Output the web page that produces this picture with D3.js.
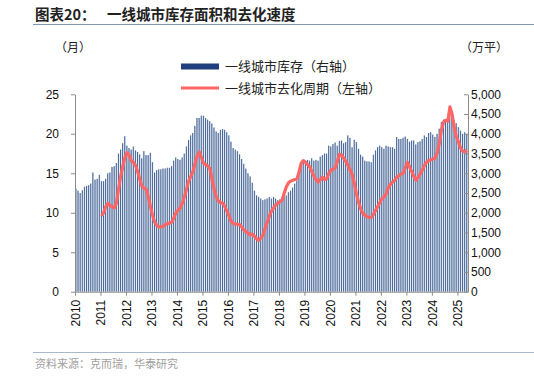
<!DOCTYPE html>
<html>
<head>
<meta charset="utf-8">
<script src="https://cdn.jsdelivr.net/npm/d3@7"></script>
<style>
  body { margin: 0; background: #fff; }
  svg { display: block; }
</style>
</head>
<body>
<svg id="chart"></svg>
<script>
const width = 534, height = 377;
const plot = { left: 75, right: 468, top: 94.3, bottom: 291.7 };

// Monthly data, starting Jan 2010
const yearLabels = ["2010","2011","2012","2013","2014","2015","2016","2017","2018","2019","2020","2021","2022","2023","2024","2025"];

// 一线城市库存 (万平), right axis
const inventory = [
  2610, 2560, 2500, 2570, 2660, 2680, 2700, 2740, 3020, 2840, 2860, 2960,
  2800, 2800, 2860, 3000, 3020, 3160, 3180, 3260, 3500, 3600, 3760, 3940,
  3700, 3640, 3600, 3680, 3580, 3540, 3480, 3380, 3560, 3460, 3460, 3520,
  3280, 3020, 3080, 3100, 3100, 3120, 3120, 3140, 3140, 3180, 3320, 3400,
  3360, 3340, 3400, 3500, 3680, 3840, 3960, 4020, 4200, 4400, 4400, 4460,
  4460, 4400, 4360, 4320, 4260, 4160, 4060, 4020, 4100, 4120, 4100, 4040,
  3960, 3800, 3640, 3600, 3560, 3480, 3360, 3240, 3120, 3000, 2920, 2760,
  2560, 2440, 2400, 2360, 2320, 2340, 2360, 2400, 2360, 2400, 2360, 2320,
  2340, 2360, 2400, 2440, 2520, 2560, 2640, 2740, 2820, 2980, 3160, 3280,
  3320, 3340, 3320, 3380, 3320, 3340, 3320, 3420, 3460, 3500, 3500, 3700,
  3680, 3740, 3780, 3700, 3820, 3830, 3760, 3790, 3960, 3900, 3660, 3850,
  3790, 3620, 3470, 3420, 3320, 3300, 3300, 3280, 3470, 3580, 3660, 3700,
  3660, 3620, 3700, 3680, 3660, 3660, 3620, 3920, 3870, 3870, 3900, 3930,
  3870, 3800, 3830, 3830, 3730, 3790, 3810, 3870, 3960, 3920, 4020, 4040,
  3980, 3920, 4000, 4130, 4300, 4360, 4340, 4420, 4470, 4410, 4340, 4270,
  4170, 4080, 4000, 4040, 4000
];

// 一线城市去化周期 (月), left axis, starts Jan 2011
const cycleStart = 12;
const cycle = [
  9.6, 10.0, 10.8, 11.2, 10.9, 10.8, 10.6, 11.2, 13.0, 14.6, 15.9, 17.0,
  17.6, 17.3, 16.6, 16.4, 16.0, 15.2, 14.2, 13.4, 13.1, 13.0, 12.0, 10.8,
  9.7, 8.8, 8.4, 8.2, 8.2, 8.3, 8.5, 8.6, 8.7, 8.8, 9.3, 10.0,
  10.3, 10.6, 11.2, 12.0, 13.0, 14.0, 14.6, 15.2, 16.2, 17.2, 17.7, 17.0,
  16.3, 16.1, 15.9, 15.6, 14.2, 13.0, 12.0, 11.5, 11.3, 11.2, 10.8, 10.2,
  9.6, 8.9, 8.6, 8.6, 8.5, 8.5, 8.2, 7.8, 7.6, 7.4, 7.2, 7.3,
  7.0, 6.7, 6.5, 6.8, 7.2, 8.0, 8.8, 9.6, 10.2, 10.6, 11.0, 11.2,
  11.4, 11.6, 12.5, 13.3, 13.8, 14.0, 14.1, 14.2, 14.3, 15.2, 16.3, 16.6,
  16.4, 16.1, 15.8, 15.2, 14.6, 14.2, 13.9, 14.2, 14.5, 14.2, 14.3, 15.0,
  15.4, 15.5, 15.7, 16.5, 17.4, 17.3, 16.9, 16.5, 16.0, 15.4, 14.8, 13.7,
  12.4, 11.3, 10.5, 9.9, 9.7, 9.5, 9.4, 9.4, 9.8, 10.3, 10.8, 11.3,
  11.8, 12.0, 12.4, 13.2, 13.6, 13.9, 14.1, 14.5, 14.7, 14.9, 15.0, 15.7,
  16.4, 15.8, 15.2, 14.6, 14.1, 14.5, 14.9, 15.4, 16.0, 16.4, 16.6, 16.7,
  16.8, 16.9, 17.6, 18.8, 20.5, 21.5, 21.7, 21.6, 23.4, 22.5, 20.8, 19.6,
  19.0, 18.2, 17.8, 17.7, 17.9
];

const leftTicks = [0, 5, 10, 15, 20, 25];
const rightTicks = [0, 500, 1000, 1500, 2000, 2500, 3000, 3500, 4000, 4500, 5000];

const latin = "'Liberation Sans', Arial, sans-serif";
const cjk = "'Noto Sans CJK SC', sans-serif";

const svg = d3.select("#chart")
  .attr("width", width)
  .attr("height", height)
  .attr("viewBox", [0, 0, width, height]);

// bar fill: dark-to-light gradient across each bar, like the original's shaded columns
const grad = svg.append("defs").append("linearGradient")
  .attr("id", "barFill").attr("x1", 0).attr("x2", 1).attr("y1", 0).attr("y2", 0);
grad.append("stop").attr("offset", "0%").attr("stop-color", "#0d336f");
grad.append("stop").attr("offset", "100%").attr("stop-color", "#b4c5de");

// Title + rules
svg.append("text").attr("x", 35).attr("y", 20)
  .attr("font-family", cjk).attr("font-weight", "bold").attr("font-size", 14.5)
  .attr("fill", "#222").text("图表20：");
svg.append("text").attr("x", 107).attr("y", 20)
  .attr("font-family", cjk).attr("font-weight", "bold").attr("font-size", 14.5)
  .attr("fill", "#222").text("一线城市库存面积和去化速度");
svg.append("line").attr("x1", 33).attr("x2", 534).attr("y1", 24.5).attr("y2", 24.5)
  .attr("stroke", "#7f97b5").attr("stroke-width", 1);
svg.append("line").attr("x1", 33).attr("x2", 534).attr("y1", 352.5).attr("y2", 352.5)
  .attr("stroke", "#a9b9cc").attr("stroke-width", 1);
svg.append("text").attr("x", 35).attr("y", 368)
  .attr("font-family", cjk).attr("font-size", 11).attr("fill", "#a0a0a0")
  .text("资料来源：克而瑞，华泰研究");

// Unit labels
svg.append("text").attr("x", 55).attr("y", 52)
  .attr("font-family", cjk).attr("font-size", 12).attr("fill", "#222").text("（月）");
svg.append("text").attr("x", 460).attr("y", 52)
  .attr("font-family", cjk).attr("font-size", 12).attr("fill", "#222").text("（万平）");

// Scales
const n = inventory.length;
const x = d3.scaleLinear().domain([0, n]).range([plot.left, plot.right]);
const yLeft = d3.scaleLinear().domain([0, 25]).range([plot.bottom, plot.top]);
const yRight = d3.scaleLinear().domain([0, 5000]).range([plot.bottom, plot.top]);
const step = x(1) - x(0);

// Bars
svg.append("g")
  .selectAll("rect")
  .data(inventory)
  .join("rect")
  .attr("x", (d, i) => x(i) + step * 0.2)
  .attr("width", step * 0.65)
  .attr("y", d => yRight(d))
  .attr("height", d => yRight(0) - yRight(d))
  .attr("fill", "url(#barFill)");

// Line
const line = d3.line()
  .x((d, i) => x(i + cycleStart) + step / 2)
  .y(d => yLeft(d));
svg.append("path")
  .datum(cycle)
  .attr("fill", "none")
  .attr("stroke", "#ff6565")
  .attr("stroke-width", 3.2)
  .attr("stroke-linejoin", "round")
  .attr("d", line);

// Axes
const axisStyle = g => {
  g.select(".domain").attr("stroke", "#8c8c8c");
  g.selectAll(".tick line").attr("stroke", "#8c8c8c");
  g.selectAll("text").attr("font-family", latin).attr("font-size", 12).attr("fill", "#111");
};

svg.append("g")
  .attr("transform", `translate(${plot.left},0)`)
  .call(d3.axisLeft(yLeft).tickValues(leftTicks).tickSizeInner(4).tickSizeOuter(0).tickPadding(12))
  .call(axisStyle);

svg.append("g")
  .attr("transform", `translate(${plot.right},0)`)
  .call(d3.axisRight(yRight).tickValues(rightTicks).tickFormat(d3.format(","))
    .tickSizeInner(-4).tickSizeOuter(0).tickPadding(3))
  .call(axisStyle);

svg.append("g")
  .attr("transform", `translate(0,${plot.bottom})`)
  .call(d3.axisBottom(x).tickValues(d3.range(0, n, 12)).tickFormat(d => yearLabels[d / 12])
    .tickSizeInner(4).tickSizeOuter(0))
  .call(axisStyle)
  .call(g => g.selectAll("text")
    .attr("transform", "rotate(-90)")
    .attr("text-anchor", "end")
    .attr("x", -8).attr("y", 0).attr("dy", "0.35em"));

// Legend
const legend = svg.append("g").attr("font-family", cjk).attr("font-size", 13).attr("fill", "#222");
legend.append("rect").attr("x", 181).attr("y", 63.5).attr("width", 38).attr("height", 6)
  .attr("fill", "#1f3f7c");
legend.append("text").attr("x", 225).attr("y", 66.5).attr("dy", "0.35em").text("一线城市库存（右轴）");
legend.append("line").attr("x1", 181).attr("x2", 219).attr("y1", 88).attr("y2", 88)
  .attr("stroke", "#ff6565").attr("stroke-width", 3);
legend.append("text").attr("x", 225).attr("y", 88).attr("dy", "0.35em").text("一线城市去化周期（左轴）");
</script>
</body>
</html>
